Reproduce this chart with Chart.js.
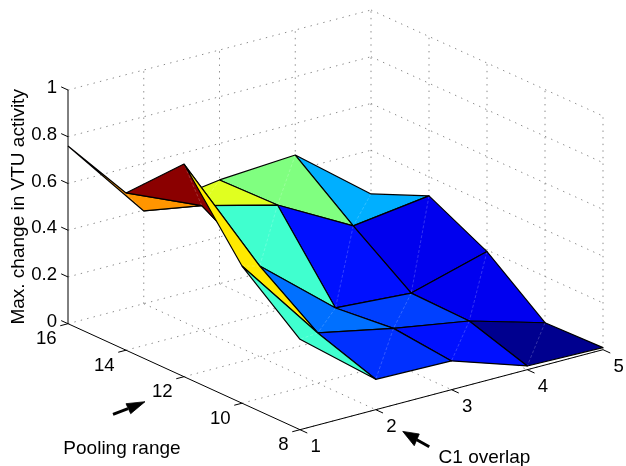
<!DOCTYPE html>
<html>
<head>
<meta charset="utf-8">
<style>html,body{margin:0;padding:0;background:#fff}canvas{display:block}</style>
<script src="https://cdn.jsdelivr.net/npm/chart.js@4"></script>
</head>
<body>
<canvas id="c" width="626" height="466"></canvas>
<script>
// ---- data ----
const c1Overlap = [1, 2, 3, 4, 5];
const poolingRange = [16, 14, 12, 10, 8];
const zTicks = [0, 0.2, 0.4, 0.6, 0.8, 1];
const zAtPool16 = [0.760, 0.397, 0.444, 0.465, 0.213];
const zAtPool14 = [0.673, 0.533, 0.450, 0.275, 0.318];
const zAtPool12 = [0.910, 0.388, 0.123, 0.101, 0.193];
const zAtPool10 = [0.587, 0.215, 0.149, 0.095, 0.002];
const zAtPool8  = [0.387, 0.130, 0.123, 0.016, 0.009];
const surface = [zAtPool16, zAtPool14, zAtPool12, zAtPool10, zAtPool8];
const xTitle = 'C1 overlap';
const yTitle = 'Pooling range';
const zTitle = 'Max. change in VTU activity';

// flat jet colours of the 4x4 patches, one row per pooling step
const patchColours = [
  ['#FF9500', '#E0FF20', '#80FF80', '#00AFFF'],
  ['#8B0000', '#40FFCF', '#0010FF', '#0000EE'],
  ['#FFEA00', '#0070FF', '#0040FF', '#0000F0'],
  ['#40FFCF', '#0030FF', '#0010FF', '#00008F']
];

// ---- view (orthographic projection into the hidden linear scales) ----
const view = {ox: 68, oy: 323.7, cx: 75.75, cy: -20, px: 58, py: 26.5, zh: 233.7};
function project(c, p, z) {
  const i = c - 1, j = (16 - p) / 2;
  return {x: view.ox + view.cx * i + view.px * j,
          y: view.oy + view.cy * i + view.py * j - view.zh * z};
}

const datasets = [];
function add(points, o) {
  datasets.push(Object.assign({
    data: points, showLine: true, pointRadius: 0, pointHoverRadius: 0,
    borderColor: '#000', borderWidth: 1, fill: false, tension: 0, clip: false,
    borderJoinStyle: 'round'
  }, o));
}
const grid = {borderColor: '#8a8a8a', borderWidth: 1, borderDash: [1.4, 5.2]};
const cMin = c1Overlap[0], cMax = c1Overlap[4], pBack = poolingRange[0], pFront = poolingRange[4];

// grid: walls and floor
zTicks.forEach(z => {
  add([project(cMin, pBack, z), project(cMax, pBack, z)], grid);
  add([project(cMax, pBack, z), project(cMax, pFront, z)], grid);
});
c1Overlap.slice(1).forEach(c => {
  add([project(c, pBack, 0), project(c, pBack, 1)], grid);
  add([project(c, pBack, 0), project(c, pFront, 0)], grid);
});
poolingRange.slice(1).forEach(p => {
  add([project(cMax, p, 0), project(cMax, p, 1)], grid);
  add([project(cMin, p, 0), project(cMax, p, 0)], grid);
});

// axes and ticks
const unit = (dx, dy, len) => { const n = Math.hypot(dx, dy); return {x: dx / n * len, y: dy / n * len}; };
const tickZ = unit(-view.px, -view.py, 7.5);
const tickP = unit(-view.cx, -view.cy, 8);
const tickC = unit(view.px, view.py, 8);
add([project(cMin, pBack, 0), project(cMin, pBack, 1)]);
add([project(cMin, pBack, 0), project(cMin, pFront, 0)]);
add([project(cMin, pFront, 0), project(cMax, pFront, 0)]);
zTicks.forEach(z => { const a = project(cMin, pBack, z); add([a, {x: a.x + tickZ.x, y: a.y + tickZ.y}]); });
poolingRange.forEach(p => { const a = project(cMin, p, 0); add([a, {x: a.x + tickP.x, y: a.y + tickP.y}]); });
c1Overlap.forEach(c => { const a = project(c, pFront, 0); add([a, {x: a.x + tickC.x, y: a.y + tickC.y}]); });

// surface patches, back to front
const cells = [];
for (let j = 0; j < 4; j++) for (let i = 0; i < 4; i++) cells.push({i, j});
cells.sort((a, b) => (a.j - a.i) - (b.j - b.i));
cells.forEach(({i, j}) => {
  const v = (a, b) => project(c1Overlap[a], poolingRange[b], surface[b][a]);
  const ring = [v(i, j), v(i + 1, j), v(i + 1, j + 1), v(i, j + 1), v(i, j)];
  add(ring, {fill: 'shape', backgroundColor: patchColours[j][i], borderColor: 'rgba(0,0,0,0)', borderWidth: 0});
  add([v(i + 1, j), v(i, j + 1)], {borderColor: 'rgba(255,255,255,0.2)', borderWidth: 1, borderDash: [3, 2]});
  add(ring, {borderColor: '#000', borderWidth: 1.2});
});

// annotation arrows, placed relative to the axis ticks they point at
function arrow(anchor, tail, neck, tip, b1, b2) {
  const at = o => ({x: anchor.x + o[0], y: anchor.y + o[1]});
  add([at(tail), at(neck)], {borderWidth: 3, borderJoinStyle: 'miter'});
  const head = [at(tip), at(b1), at(b2), at(tip)];
  add(head, {fill: 'shape', backgroundColor: '#000', borderColor: '#000', borderWidth: 0.8});
}
arrow(project(cMin, 12, 0), [-71, 37.6], [-56, 32], [-39, 25], [-58, 27], [-53.3, 37]);
arrow(project(2, pFront, 0), [53.5, 37], [41, 30], [27, 21.7], [43.5, 24.3], [38.5, 36]);

datasets.forEach((d, k) => { d.order = -k; });

const labelsPlugin = {
  id: 'labels3d',
  afterDraw(chart) {
    const {ctx, scales: {x, y}} = chart;
    const px = a => ({x: x.getPixelForValue(a.x), y: y.getPixelForValue(a.y)});
    ctx.save();
    ctx.fillStyle = '#000';
    ctx.font = '18.6px "Liberation Sans", Arial, sans-serif';
    ctx.textBaseline = 'middle';
    ctx.textAlign = 'right';
    zTicks.forEach(z => { const a = px(project(cMin, pBack, z)); ctx.fillText(String(z), a.x - 11, a.y - 2); });
    poolingRange.forEach(p => { const a = px(project(cMin, p, 0)); ctx.fillText(String(p), a.x - 11.3, a.y + 15.5); });
    ctx.textAlign = 'center';
    c1Overlap.forEach(c => { const a = px(project(c, pFront, 0)); ctx.fillText(String(c), a.x + 15.7, a.y + 17.5); });
    ctx.font = '19px "Liberation Sans", Arial, sans-serif';
    const a1 = px(project(3, pFront, 0));
    ctx.fillText(xTitle, a1.x + 33, a1.y + 68);
    const a2 = px(project(cMin, 10, 0));
    ctx.fillText(yTitle, a2.x - 120, a2.y + 46);
    const a3 = px(project(cMin, pBack, 0.5));
    ctx.save();
    ctx.translate(a3.x - 49, a3.y);
    ctx.rotate(-Math.PI / 2);
    ctx.fillText(zTitle, 0, 0);
    ctx.restore();
    ctx.restore();
  }
};

new Chart(document.getElementById('c'), {
  type: 'scatter',
  data: {datasets},
  options: {
    responsive: false,
    animation: false,
    events: [],
    layout: {padding: 0},
    plugins: {legend: {display: false}, tooltip: {enabled: false}, title: {display: false}},
    scales: {
      x: {type: 'linear', min: 0, max: 626, display: false},
      y: {type: 'linear', min: 0, max: 466, reverse: true, display: false}
    }
  },
  plugins: [labelsPlugin]
});
</script>
</body>
</html>
